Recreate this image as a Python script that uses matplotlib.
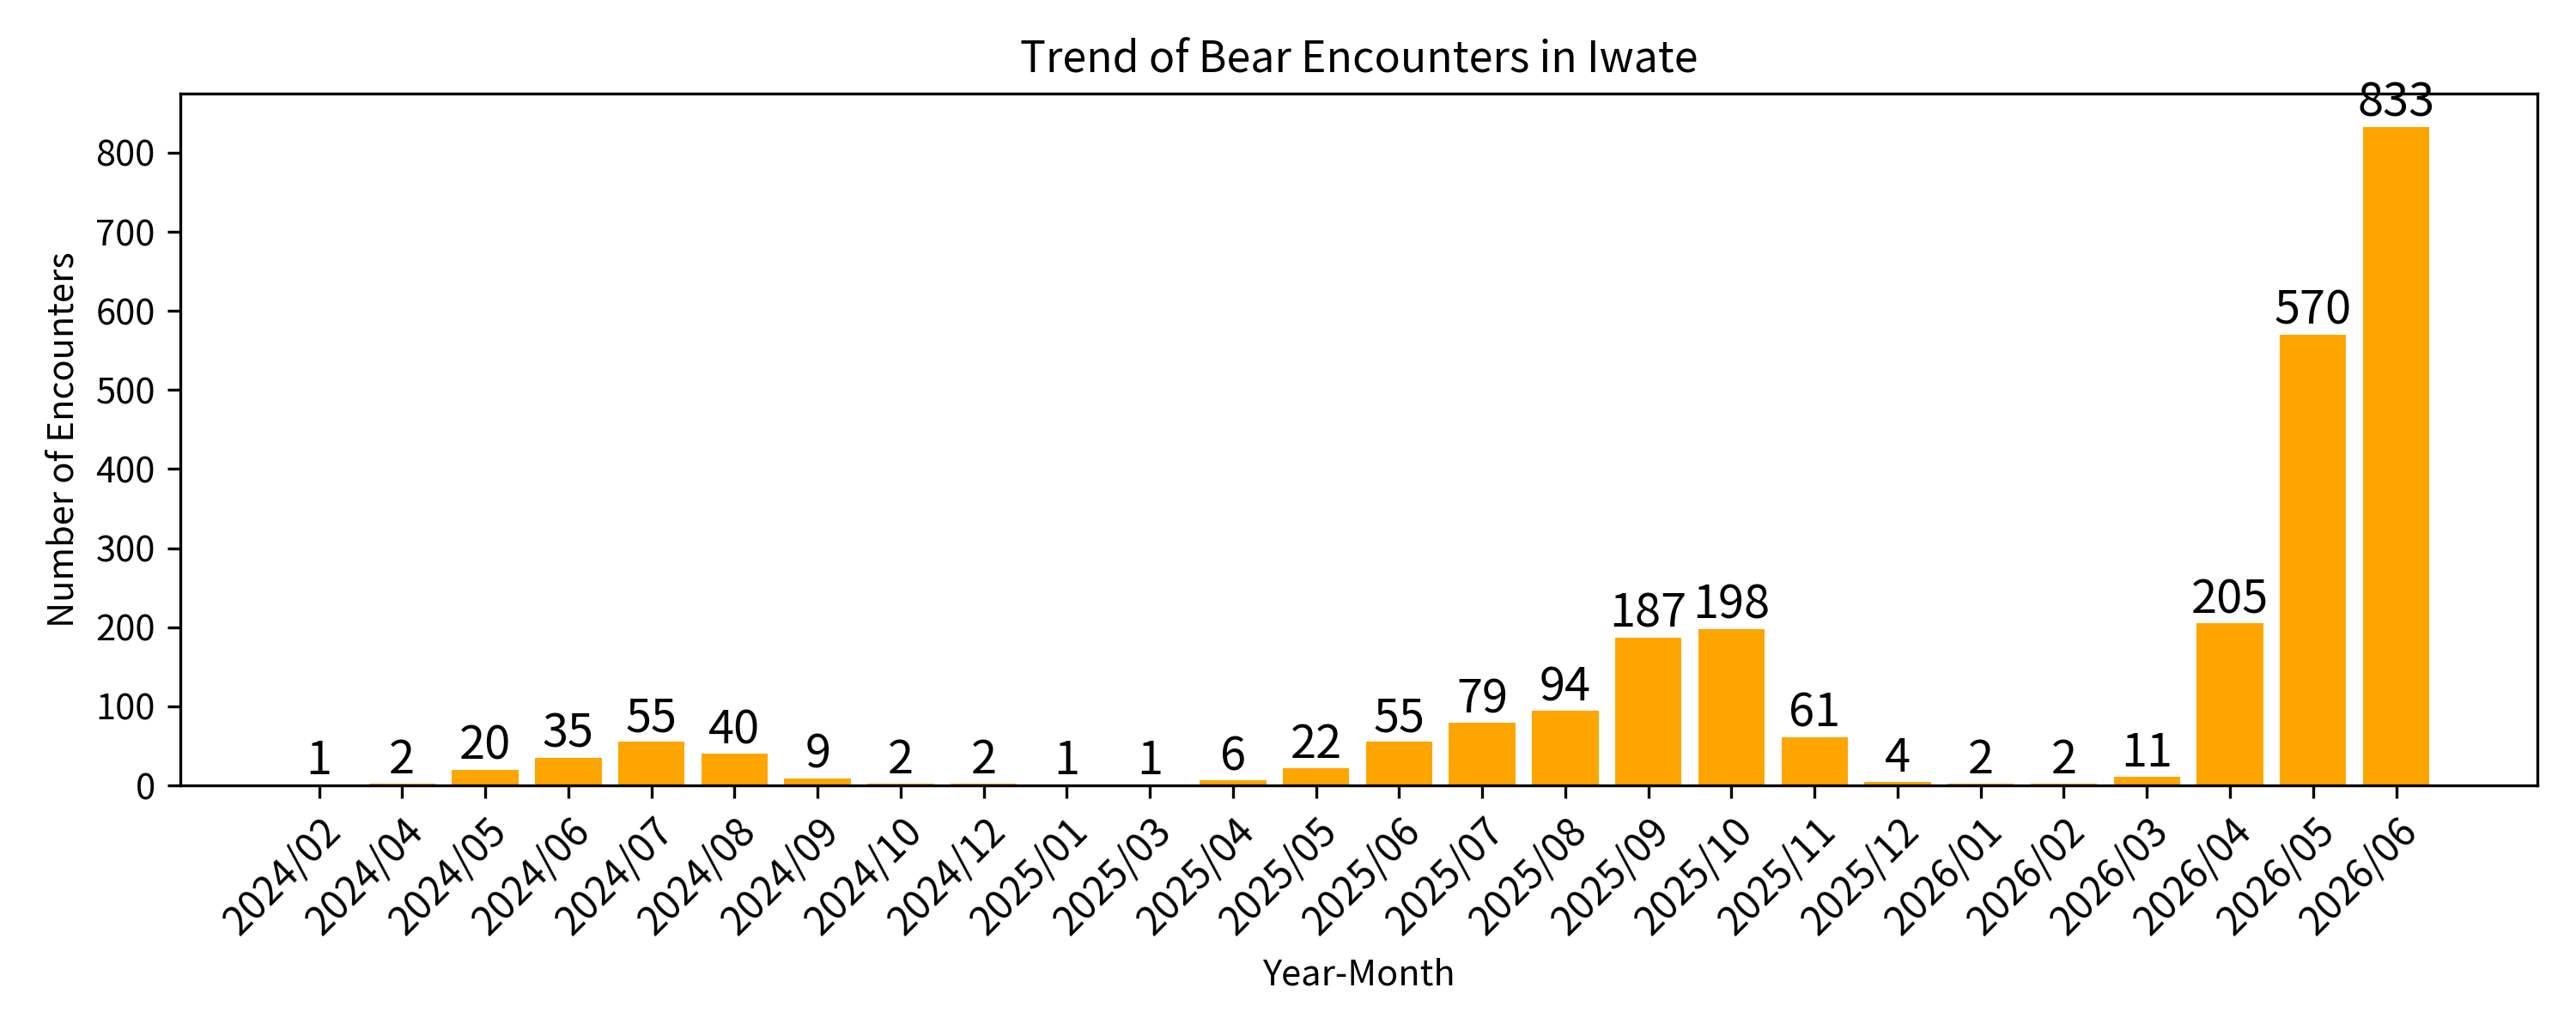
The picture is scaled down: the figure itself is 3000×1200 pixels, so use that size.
import matplotlib
matplotlib.use("Agg")
import matplotlib.pyplot as plt
import numpy as np

plt.rcParams['font.family'] = ['Noto Sans CJK JP', 'DejaVu Sans']

# monthly counts, months with no records are left out
months = ['2024/02', '2024/04', '2024/05', '2024/06', '2024/07', '2024/08', '2024/09',
          '2024/10', '2024/12', '2025/01', '2025/03', '2025/04', '2025/05', '2025/06',
          '2025/07', '2025/08', '2025/09', '2025/10', '2025/11', '2025/12', '2026/01',
          '2026/02', '2026/03', '2026/04', '2026/05', '2026/06']
counts = [1, 2, 20, 35, 55, 40, 9, 2, 2, 1, 1, 6, 22, 55, 79, 94, 187, 198, 61, 4,
          2, 2, 11, 205, 570, 833]

fig, ax = plt.subplots(figsize=(10, 4), dpi=300)
x = np.arange(len(months))
bars = ax.bar(x, counts, width=0.8, color='orange')
ax.bar_label(bars, labels=[str(c) for c in counts], fontsize=13, padding=0)

ax.set_xticks(x)
ax.set_xticklabels(months, rotation=45, ha='right', rotation_mode='anchor', fontsize=11)
ax.set_xlim(-1.67, len(months) - 1 + 1.7)
ax.set_title('Trend of Bear Encounters in Iwate')
ax.set_xlabel('Year-Month')
ax.set_ylabel('Number of Encounters')

plt.subplots_adjust(left=0.07, right=0.985, top=0.909, bottom=0.2375)
plt.savefig('out.png')
